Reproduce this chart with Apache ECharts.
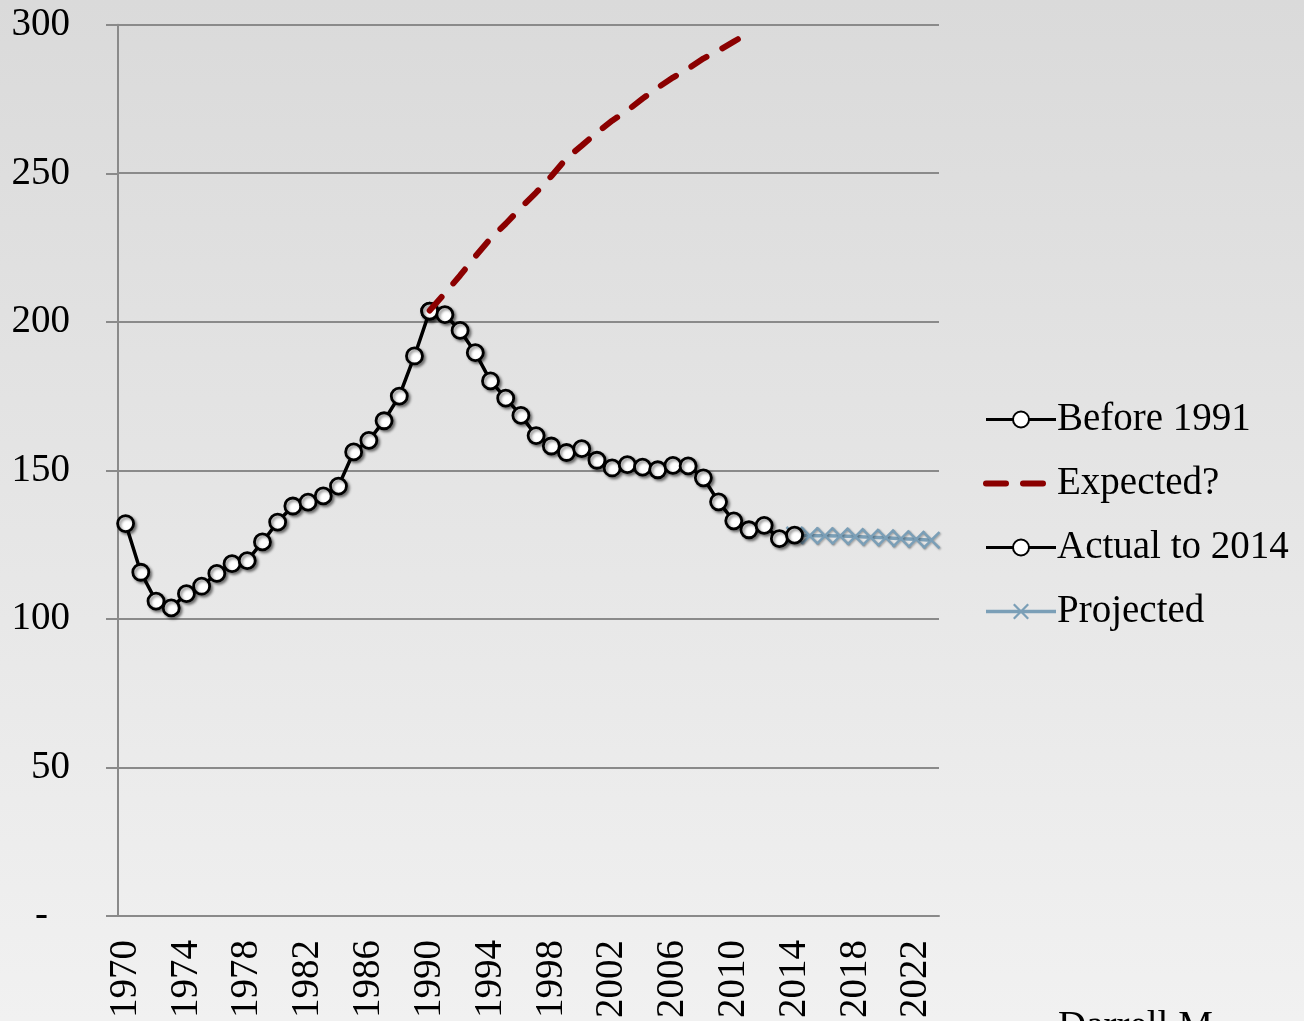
<!DOCTYPE html>
<html>
<head>
<meta charset="utf-8">
<script src="https://cdn.jsdelivr.net/npm/echarts@6/dist/echarts.min.js"></script>
<style>
  html, body { margin: 0; padding: 0; }
  #chart { width: 1304px; height: 1021px; }
</style>
</head>
<body>
<div id="chart"></div>
<script>
// years on the category axis
const years = [
  "1970", "1971", "1972", "1973", "1974", "1975", "1976", "1977", "1978", "1979",
  "1980", "1981", "1982", "1983", "1984", "1985", "1986", "1987", "1988", "1989",
  "1990", "1991", "1992", "1993", "1994", "1995", "1996", "1997", "1998", "1999",
  "2000", "2001", "2002", "2003", "2004", "2005", "2006", "2007", "2008", "2009",
  "2010", "2011", "2012", "2013", "2014", "2015", "2016", "2017", "2018", "2019",
  "2020", "2021", "2022", "2023"
];

// 1970 - 1990
const before1991 = [132.1, 115.7, 106, 103.7, 108.5, 111, 115.3, 118.6, 119.6, 125.9,
  132.6, 138, 139.3, 141.4, 144.7, 156.2, 160.1, 166.7, 175, 188.5, 203.6];
// 1990 - 2011
const expected = [203.8, 209.6, 215.6, 222, 228, 233, 238.4, 243.5, 249, 255, 259.3,
  263.7, 267.7, 271.1, 275.1, 278.8, 282.2, 285.2, 288.6, 291.3, 294.3, 297.3];
// 1990 - 2014
const actual = [203.6, 202.4, 197.1, 189.6, 180.1, 174.3, 168.5, 161.7, 158.2, 156,
  157.3, 153.4, 150.8, 151.9, 151.1, 150.2, 151.7, 151.5, 147.5, 139.4, 133, 130,
  131.5, 127, 128.2];
// 2014 - 2023
const projected = [128.2, 128, 128, 127.9, 127.7, 127.5, 127.3, 127, 126.8, 126.5];

const yTicks = [0, 50, 100, 150, 200, 250, 300];

// place a short run of values on the full year axis
const padTo = (startYear, values) =>
  years.map((y) => {
    const i = Number(y) - startYear;
    return i >= 0 && i < values.length ? values[i] : null;
  });

const serif = "Liberation Serif";
const gridGray = "#8a8a8a";
const blue = "#7b9fb7";
const darkRed = "#8b0000";
// thin "x" mark, drawn as a filled outline
const crossPath = "path://M0,1.2 L1.2,0 L6,4.8 L10.8,0 L12,1.2 L7.2,6 L12,10.8 L10.8,12 L6,7.2 L1.2,12 L0,10.8 L4.8,6 Z";

const circleStyle = {
  color: "#ffffff",
  borderColor: "#000000",
  borderWidth: 2.8,
  shadowColor: "rgba(0,0,0,0.45)",
  shadowBlur: 3,
  shadowOffsetX: 2,
  shadowOffsetY: 2,
};
const noShadow = { shadowBlur: 0, shadowOffsetX: 0, shadowOffsetY: 0 };

const chart = echarts.init(document.getElementById("chart"));
chart.setOption({
  animation: false,
  backgroundColor: {
    type: "linear", x: 0, y: 0, x2: 0, y2: 1,
    colorStops: [
      { offset: 0, color: "#dadada" },
      { offset: 1, color: "#f1f1f1" },
    ],
  },
  grid: { left: 118, right: 365, top: 24.7, bottom: 105, containLabel: false },
  legend: {
    orient: "vertical",
    left: 978,
    top: 395,
    itemWidth: 70,
    itemHeight: 20,
    itemGap: 25,
    textStyle: { fontFamily: serif, fontSize: 39, color: "#000", padding: [0, 0, 0, -4] },
    data: [
      {
        name: "Before 1991",
        itemStyle: Object.assign({ color: "#fff", borderColor: "#000", borderWidth: 2 }, noShadow),
        lineStyle: { color: "#000", width: 3 },
      },
      {
        name: "Expected?",
        itemStyle: { opacity: 0 },
        lineStyle: { color: darkRed, width: 6, type: [20, 17], cap: "round" },
      },
      {
        name: "Actual to 2014",
        itemStyle: Object.assign({ color: "#fff", borderColor: "#000", borderWidth: 2 }, noShadow),
        lineStyle: { color: "#000", width: 3 },
      },
      {
        name: "Projected",
        itemStyle: Object.assign({ color: blue }, noShadow),
        lineStyle: { color: blue, width: 3.5 },
      },
    ],
  },
  xAxis: {
    type: "category",
    data: years,
    boundaryGap: true,
    axisLine: { lineStyle: { color: gridGray, width: 2 } },
    axisTick: { interval: 0, length: 12, lineStyle: { color: gridGray, width: 1.5 } },
    axisLabel: {
      interval: 3,
      rotate: 90,
      margin: 24,
      fontFamily: serif,
      fontSize: 39,
      color: "#000",
    },
    splitLine: { show: false },
  },
  yAxis: {
    type: "value",
    min: yTicks[0],
    max: yTicks[yTicks.length - 1],
    interval: 50,
    axisLine: { show: true, lineStyle: { color: gridGray, width: 2 } },
    axisTick: { show: true, length: 12, lineStyle: { color: gridGray, width: 2 } },
    axisLabel: {
      margin: 48,
      fontFamily: serif,
      fontSize: 39,
      color: "#000",
      formatter: (v) => (v === 0 ? "{dash|-}" : String(v)),
      rich: { dash: { fontFamily: serif, fontSize: 39, color: "#000", padding: [0, 22, 0, 0] } },
    },
    splitLine: { lineStyle: { color: gridGray, width: 2 } },
  },
  series: [
    {
      name: "Projected",
      type: "line",
      data: padTo(2014, projected),
      z: 2,
      showAllSymbol: true,
      symbol: crossPath,
      symbolSize: 18,
      itemStyle: { color: blue, shadowColor: "rgba(0,0,0,0.3)", shadowBlur: 2, shadowOffsetX: 1, shadowOffsetY: 1 },
      lineStyle: { color: blue, width: 3.5 },
    },
    {
      name: "Before 1991",
      type: "line",
      data: padTo(1970, before1991),
      z: 3,
      showAllSymbol: true,
      symbol: "circle",
      symbolSize: 16,
      itemStyle: circleStyle,
      lineStyle: { color: "#000", width: 3.5 },
    },
    {
      name: "Actual to 2014",
      type: "line",
      data: padTo(1990, actual),
      z: 3,
      showAllSymbol: true,
      symbol: "circle",
      symbolSize: 16,
      itemStyle: circleStyle,
      lineStyle: { color: "#000", width: 3.5 },
    },
    {
      name: "Expected?",
      type: "line",
      data: padTo(1990, expected),
      z: 4,
      symbol: "none",
      itemStyle: { color: darkRed },
      lineStyle: { color: darkRed, width: 6, type: [18, 18], cap: "round" },
    },
  ],
  graphic: [
    {
      type: "text",
      left: 1058,
      top: 1008,
      style: { text: "Darrell M", font: "39px 'Liberation Serif'", fill: "#000" },
    },
  ],
});
</script>
</body>
</html>
